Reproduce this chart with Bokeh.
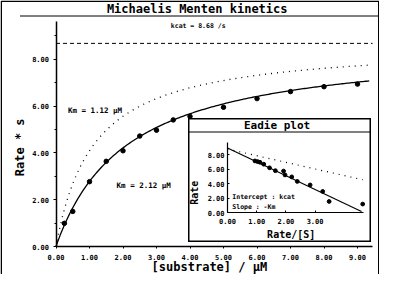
import numpy as np
from bokeh.plotting import figure
from bokeh.models import (LinearAxis, FixedTicker, NumeralTickFormatter, Label,
                          ColumnDataSource, Range1d)
from bokeh.layouts import column
from bokeh.embed import file_html
from bokeh.resources import INLINE

# ---------------- data ----------------
substrate = [0.25, 0.5, 1.0, 1.5, 2.0, 2.5, 3.0, 3.5, 4.0, 5.0, 6.0, 7.0, 8.0, 9.0]
rate = [0.99, 1.50, 2.77, 3.64, 4.09, 4.72, 4.97, 5.41, 5.56, 5.95, 6.32, 6.62, 6.83, 6.94]
kcat = 8.68
km_fit = 2.12
km_alt = 1.12
x_ticks = [0, 1, 2, 3, 4, 5, 6, 7, 8, 9]
y_ticks = [0, 2, 4, 6, 8]
y_minor = [1, 3, 5, 7, 9]

eadie_x = [0.94, 1.03, 1.11, 1.24, 1.44, 1.64, 1.92, 1.97, 2.20, 2.39, 2.83, 3.26, 3.48, 4.63]
eadie_y = [7.15, 7.06, 6.97, 6.70, 6.20, 5.80, 5.75, 5.21, 4.94, 4.31, 3.82, 2.92, 1.53, 1.17]
eadie_fit_x = [0.0, 4.59]
eadie_fit_y = [8.94, 0.15]
eadie_alt_x = [0.0, 4.63]
eadie_alt_y = [8.80, 4.54]
eadie_x_ticks = [0, 1, 2, 3]
eadie_y_ticks = [0, 2, 4, 6, 8]

FONT = "DejaVu Sans Mono"

# ---------------- main figure geometry ----------------
W, H = 379, 274
X0, SX = 55.5, 33.5     # pixel of x=0, pixels per unit
Y0, SY = 246.0, 23.4    # pixel of y=0 (from top), pixels per unit


def dx(px):
    return (px - X0) / SX


def dy(py):
    return (Y0 - py) / SY


def add_label(fig, x, y, text, size, align="center", angle=0.0, baseline="middle"):
    fig.add_layout(Label(x=x, y=y, text=text, text_font=FONT, text_font_size=size,
                         text_font_style="bold", text_align=align, text_baseline=baseline,
                         angle=angle, text_color="black"))


def style_axis(ax, size="7px", standoff=4, tick_out=3, tick_in=0):
    ax.axis_line_color = "black"
    ax.axis_line_width = 1.5
    ax.major_tick_line_color = "black"
    ax.major_tick_out = tick_out
    ax.major_tick_in = tick_in
    ax.minor_tick_line_color = "black"
    ax.minor_tick_out = 2
    ax.minor_tick_in = 0
    ax.major_label_text_font = FONT
    ax.major_label_text_font_style = "bold"
    ax.major_label_text_font_size = size
    ax.major_label_text_color = "black"
    ax.major_label_standoff = standoff


p = figure(width=W, height=H, x_range=Range1d(dx(0), dx(W)), y_range=Range1d(dy(H), dy(0)),
           output_backend="svg", toolbar_location=None, tools="", title=None,
           x_axis_type=None, y_axis_type=None, min_border=0)
p.outline_line_color = None
p.background_fill_color = "white"
p.border_fill_color = "white"

X_END = 9.45
xaxis = LinearAxis(fixed_location=0, bounds=(0, X_END),
                   ticker=FixedTicker(ticks=x_ticks),
                   formatter=NumeralTickFormatter(format="0.00"))
style_axis(xaxis, standoff=5, tick_out=2)
p.add_layout(xaxis, "below")

yaxis = LinearAxis(fixed_location=0, bounds=(0, 9.6),
                   ticker=FixedTicker(ticks=y_ticks, minor_ticks=y_minor),
                   formatter=NumeralTickFormatter(format="0.00"))
style_axis(yaxis, standoff=4, tick_out=3)
p.add_layout(yaxis, "left")

# outer frame and title rule (decoration)
p.line(x=[dx(0.75), dx(0.75), dx(W - 0.75), dx(W - 0.75)],
       y=[dy(H + 5), dy(0.75), dy(0.75), dy(H + 5)], line_color="black", line_width=1.5)
p.line(x=[dx(19.5), dx(W)], y=[dy(15.5), dy(15.5)], line_color="black", line_width=1)

# fitted curves
s_curve = np.linspace(0, 9.35, 200)
v_fit = kcat * s_curve / (km_fit + s_curve)
v_alt = kcat * s_curve / (km_alt + s_curve)
p.line(s_curve, v_fit, line_color="black", line_width=1.3)
p.line(s_curve, v_alt, line_color="black", line_width=1.3, line_dash="1 5")
p.line([0, X_END], [kcat, kcat], line_color="black", line_width=1, line_dash="4 3")

src = ColumnDataSource(dict(s=substrate, v=rate))
p.scatter("s", "v", source=src, size=4.5, color="black")

add_label(p, dx(196.7), dy(8.5), "Michaelis Menten kinetics", "12px")
add_label(p, dx(197.7), dy(25.0), "kcat = %.2f /s" % kcat, "6.5px")
add_label(p, dx(94.5), dy(109.8), "Km = %.2f \u03bcM" % km_alt, "7.5px")
add_label(p, dx(143.2), dy(185.4), "Km = %.2f \u03bcM" % km_fit, "7.5px")
add_label(p, dx(19.5), dy(146.8), "Rate * s", "12px", angle=np.pi / 2)
add_label(p, dx(208.9), dy(266.5), "[substrate] / \u03bcM", "12px")

# ---------------- inset (Eadie plot) ----------------
IL, IT = 188, 118
IW, IH = 183, 124
IX0, ISX = 39.0, 29.2
IY0, ISY = 94.0, 7.21


def ix(px):
    return (px - IX0) / ISX


def iy(py):
    return (IY0 - py) / ISY


q = figure(width=IW, height=IH, x_range=Range1d(ix(0), ix(IW)), y_range=Range1d(iy(IH), iy(0)),
           output_backend="svg", toolbar_location=None, tools="", title=None,
           x_axis_type=None, y_axis_type=None, min_border=0,
           margin=(-(H - IT), 0, 0, IL))
q.outline_line_color = "black"
q.outline_line_width = 2
q.background_fill_color = "white"
q.border_fill_color = "white"

qx = LinearAxis(fixed_location=0, bounds=(0, 4.67),
                ticker=FixedTicker(ticks=eadie_x_ticks),
                formatter=NumeralTickFormatter(format="0.00"))
style_axis(qx, standoff=5, tick_out=0, tick_in=2)
qx.axis_line_width = 1.2
q.add_layout(qx, "below")

qy = LinearAxis(fixed_location=0, bounds=(0, 9.7),
                ticker=FixedTicker(ticks=eadie_y_ticks),
                formatter=NumeralTickFormatter(format="0.00"))
style_axis(qy, standoff=3, tick_out=0, tick_in=2)
qy.axis_line_width = 1.2
q.add_layout(qy, "left")

q.line(x=[ix(0), ix(IW)], y=[iy(13.5), iy(13.5)], line_color="black", line_width=1)

q.line(eadie_fit_x, eadie_fit_y, line_color="black", line_width=1.2)
q.line(eadie_alt_x, eadie_alt_y, line_color="black", line_width=1.2, line_dash="1 5")
esrc = ColumnDataSource(dict(x=eadie_x, y=eadie_y))
q.scatter("x", "y", source=esrc, size=3.8, color="black")

add_label(q, ix(88.6), iy(7.0), "Eadie plot", "11px")
add_label(q, ix(5.8), iy(74.2), "Rate", "10px", angle=np.pi / 2)
add_label(q, ix(102.7), iy(116.0), "Rate/[S]", "10px")
add_label(q, ix(43.8), iy(78.5), "Intercept : kcat", "6.5px", align="left")
add_label(q, ix(43.8), iy(88.8), "Slope : -Km", "6.5px", align="left")

layout = column(p, q)
open("out.html", "w").write(file_html(layout, INLINE))
